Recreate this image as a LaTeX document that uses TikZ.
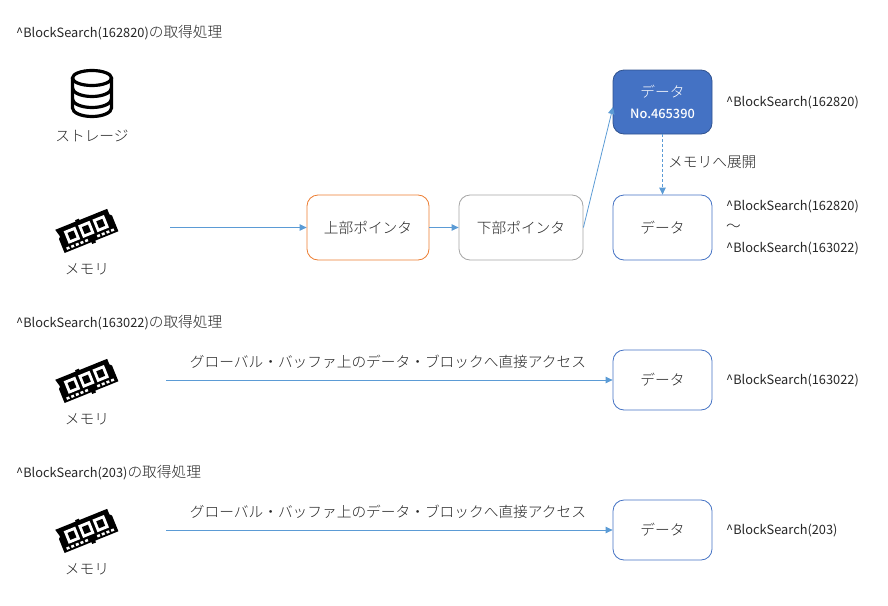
\documentclass[tikz,border=0pt]{standalone}
\usepackage{fontspec}
\setmainfont{Noto Sans CJK JP}
\newfontfamily\jlight{Noto Sans CJK JP Light}
\newfontfamily\jmedium{Noto Sans CJK JP Medium}
\usetikzlibrary{arrows.meta}
\definecolor{lineblue}{HTML}{5B9BD5}
\definecolor{boxblue}{HTML}{4472C4}
\definecolor{boxedge}{HTML}{2F528F}
\definecolor{orangeedge}{HTML}{ED7D31}
\definecolor{greyedge}{HTML}{A5A5A5}
\definecolor{txt}{HTML}{262626}
\newcommand{\J}[1]{{\jlight\fontsize{14.7}{16}\selectfont #1}}
\tikzset{
  base/.style={font=\fontsize{12.8}{16}\selectfont, text=txt},
  lbl/.style={base, inner sep=0pt},
  leftlbl/.style={lbl, anchor=west},
  rbox/.style={base, draw, rounded corners=11pt, line width=0.8pt, fill=white, inner sep=0pt},
  wide/.style={rbox, minimum width=99pt, minimum height=60pt},
  arrow/.style={draw=lineblue, line width=0.8pt, -{Triangle[length=7pt,width=6.5pt]}},
  ram/.pic={
    \begin{scope}[rotate=22]
      \fill[black] (-29,-13) -- (-7,-13) -- (-7,-14.5) -- (-3,-14.5) -- (-3,-13) -- (27,-13) -- (27,-7) -- (29,-5) -- (29,12) -- (4,12) -- (4,14) -- (0,14) -- (0,12) -- (-29,12) -- (-29,-3) -- (-27,-5) -- cycle;
      \foreach \xx in {-15.5,0,15.5} {
        \fill[white] (\xx-6.2,-8.5) rectangle (\xx+6.2,5);
        \fill[black] (\xx-3.3,-5.5) rectangle (\xx+3.3,2);
      }
      \foreach \xx in {-24,-19,-14,-9,-4,9,14,19,24}
        \fill[white] (\xx-1.5,7.5) rectangle (\xx+1.5,10);
    \end{scope}
  }
}
\begin{document}
\begin{tikzpicture}[x=1pt,y=-1pt]
\useasboundingbox (0,0) rectangle (888,605);

% section titles
\node[leftlbl] (t1) at (16,33) {\textasciicircum BlockSearch(162820)\J{の取得処理}};
\node[leftlbl] (t2) at (16,323) {\textasciicircum BlockSearch(163022)\J{の取得処理}};
\node[leftlbl] (t3) at (16,473) {\textasciicircum BlockSearch(203)\J{の取得処理}};

% storage icon
\begin{scope}[line width=3.2pt, black]
  \draw (72.5,78) -- (72.5,108) arc[x radius=19.5, y radius=8.5, start angle=180, end angle=0] -- (111.5,78);
  \draw (92,78) ellipse[x radius=19.5, y radius=7.5];
  \draw (72.5,88) arc[x radius=19.5, y radius=8.5, start angle=180, end angle=0];
  \draw (72.5,99) arc[x radius=19.5, y radius=8.5, start angle=180, end angle=0];
\end{scope}
\node[lbl] (storage) at (92,136) {\J{ストレージ}};

% memory icons
\pic at (87,231) {ram};
\node[lbl] (m1) at (87,269) {\J{メモリ}};
\pic at (87,381) {ram};
\node[lbl] (m2) at (87,419) {\J{メモリ}};
\pic at (87,531) {ram};
\node[lbl] (m3) at (87,569) {\J{メモリ}};

% boxes
\node[rbox, draw=orangeedge, minimum width=122pt, minimum height=65pt] (upper) at (368,227.5) {\J{上部ポインタ}};
\node[rbox, draw=greyedge, minimum width=124pt, minimum height=65pt] (lower) at (521,227.5) {\J{下部ポインタ}};
\node[wide, draw=boxedge, fill=boxblue, minimum height=64pt, text=white, align=center] (block) at (662.5,102)
  {\J{データ}\\[5pt]{\jmedium\fontsize{12.8}{14}\selectfont No.465390}};
\node[wide, draw=boxblue, minimum height=65pt] (d1) at (662.5,227.5) {\J{データ}};
\node[wide, draw=boxblue] (d2) at (662.5,380) {\J{データ}};
\node[wide, draw=boxblue] (d3) at (662.5,530) {\J{データ}};

% right labels
\node[leftlbl] (r1) at (726,103) {\textasciicircum BlockSearch(162820)};
\node[leftlbl] (r2a) at (726,207) {\textasciicircum BlockSearch(162820)};
\node[leftlbl] (r2b) at (726,228) {\J{〜}};
\node[leftlbl] (r2c) at (726,249) {\textasciicircum BlockSearch(163022)};
\node[leftlbl] (r3) at (726,381) {\textasciicircum BlockSearch(163022)};
\node[leftlbl] (r4) at (726,531) {\textasciicircum BlockSearch(203)};

% connector labels
\node[leftlbl] (expand) at (668,162) {\J{メモリへ展開}};
\node[lbl] (a1) at (388,362) {\J{グローバル・バッファ上のデータ・ブロックへ直接アクセス}};
\node[lbl] (a2) at (388,512) {\J{グローバル・バッファ上のデータ・ブロックへ直接アクセス}};

% free ends
\coordinate (s1) at (170,227.5);
\coordinate (s2) at (166,380);
\coordinate (s3) at (166,530);
\coordinate (blockin) at (613,107);

% connectors
\draw[arrow] (s1) -- (upper.west);
\draw[arrow] (upper.east) -- (lower.west);
\draw[arrow] (lower.east) -- (blockin);
\draw[arrow, dashed, dash pattern=on 3pt off 2pt] (block.south) -- (d1.north);
\draw[arrow] (s2) -- (d2.west);
\draw[arrow] (s3) -- (d3.west);
\end{tikzpicture}
\end{document}
